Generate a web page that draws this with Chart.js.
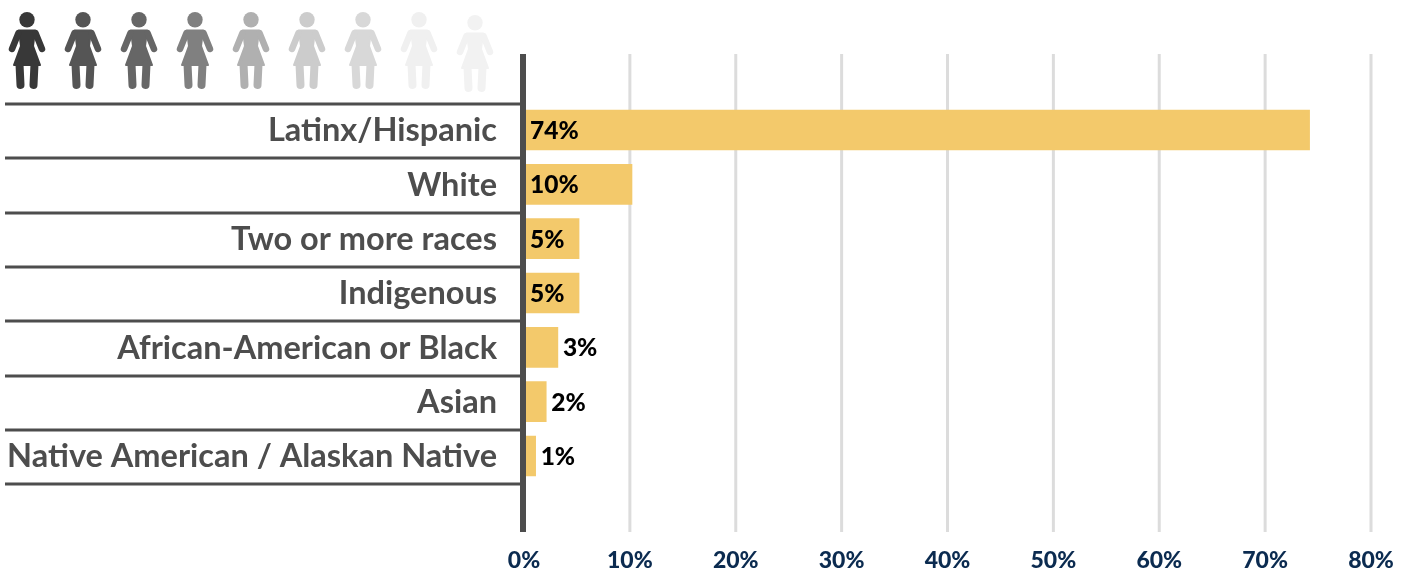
<!DOCTYPE html>
<html>
<head>
<meta charset="utf-8">
<script src="https://cdn.jsdelivr.net/npm/chart.js@4"></script>
<style>
html, body { margin: 0; padding: 0; background: #fff; }
canvas { display: block; }
</style>
</head>
<body>
<canvas id="myChart" width="1413" height="570"></canvas>
<script>
// blank first and last rows leave room for the figures and the axis tail
var categories = ['', 'Latinx/Hispanic', 'White', 'Two or more races', 'Indigenous', 'African-American or Black', 'Asian', 'Native American / Alaskan Native', ''];
var values = [null, 74.2, 10.2, 5.2, 5.2, 3.2, 2.1, 1.1, null];
var figureColors = ['#383838', '#555555', '#666666', '#808080', '#b0b0b0', '#cccccc', '#d8d8d8', '#f0f0f0', '#f2f2f2'];

var FONT = 'Lato, sans-serif';

function draw_figure(c, cx, top, color) {
    c.save();
    c.translate(cx, top);
    c.fillStyle = color;
    c.strokeStyle = color;
    c.lineCap = 'round';
    c.lineJoin = 'round';
    c.beginPath();
    c.arc(0, 7.7, 7.7, 0, Math.PI * 2);
    c.fill();
    // dress
    c.beginPath();
    c.moveTo(-8, 18.5);
    c.lineTo(8, 18.5);
    c.lineTo(6, 34);
    c.lineTo(13, 53);
    c.lineTo(-13, 53);
    c.lineTo(-6, 34);
    c.closePath();
    c.fill();
    c.lineWidth = 2;
    c.stroke();
    // arms
    c.lineWidth = 6.5;
    c.beginPath();
    c.moveTo(-8.5, 21);
    c.lineTo(-15, 37);
    c.moveTo(8.5, 21);
    c.lineTo(15, 37);
    c.stroke();
    // legs
    c.lineWidth = 8;
    c.beginPath();
    c.moveTo(-7.5, 52);
    c.lineTo(-6.5, 73);
    c.moveTo(7.5, 52);
    c.lineTo(6.5, 73);
    c.stroke();
    c.restore();
}

var decorations = {
    id: 'decorations',
    beforeDatasetsDraw: function (chart) {
        var c = chart.ctx, x = chart.scales.x;
        c.save();
        c.strokeStyle = '#dcdcdc';
        c.lineWidth = 3;
        x.ticks.forEach(function (t) {
            if (t.value === 0) return;
            var px = x.getPixelForValue(t.value);
            c.beginPath();
            c.moveTo(px, 54);
            c.lineTo(px, 532);
            c.stroke();
        });
        c.restore();
    },
    afterDatasetsDraw: function (chart) {
        var c = chart.ctx, x = chart.scales.x, y = chart.scales.y;
        c.save();
        // row separators
        c.strokeStyle = '#4d4d4d';
        c.lineWidth = 3;
        for (var i = 1; i < categories.length; i++) {
            var py = Math.round((y.getPixelForValue(i - 1) + y.getPixelForValue(i)) / 2) + 1;
            c.beginPath();
            c.moveTo(5, py);
            c.lineTo(520, py);
            c.stroke();
        }
        // vertical axis
        c.lineWidth = 6;
        c.beginPath();
        c.moveTo(x.getPixelForValue(0) - 1, 54);
        c.lineTo(x.getPixelForValue(0) - 1, 532);
        c.stroke();
        // value labels
        c.fillStyle = '#000';
        c.font = '900 24.5px ' + FONT;
        c.textAlign = 'left';
        c.textBaseline = 'middle';
        values.forEach(function (v, i) {
            if (v === null) return;
            var px = Math.round(v) >= 5 ? x.getPixelForValue(0) + 6 : x.getPixelForValue(v) + 5;
            c.fillText(Math.round(v) + '%', px, y.getPixelForValue(i) + 1);
        });
        // figures
        figureColors.forEach(function (col, i) {
            draw_figure(c, 27 + i * 56, i === 8 ? 15 : 12, col);
        });
        c.restore();
    }
};

var ctx = document.getElementById('myChart');
var chart = new Chart(ctx, {
    type: 'bar',
    data: {
        labels: categories,
        datasets: [{
            data: values,
            backgroundColor: '#f3c96b',
            barThickness: 40
        }]
    },
    options: {
        indexAxis: 'y',
        responsive: false,
        animation: false,
        layout: { padding: { top: 48.5, right: 42, left: 0, bottom: 0 } },
        plugins: { legend: { display: false }, tooltip: { enabled: false } },
        scales: {
            x: {
                min: 0,
                max: 80,
                afterFit: function (s) { s.height = 32.5; s.paddingLeft = 0; s.paddingRight = 0; },
                grid: { display: false },
                border: { display: false },
                ticks: {
                    stepSize: 10,
                    padding: 1,
                    maxRotation: 0,
                    color: '#0b2b50',
                    font: { family: FONT, size: 23, weight: '900' },
                    callback: function (v) { return v + '%'; }
                }
            },
            y: {
                afterFit: function (s) { s.width = 524; s.paddingTop = 0; s.paddingBottom = 0; },
                grid: { display: false },
                border: { display: false },
                ticks: {
                    autoSkip: false,
                    padding: 19,
                    labelOffset: 1,
                    color: '#4d4d4d',
                    font: { family: FONT, size: 32.5, weight: '700' }
                }
            }
        }
    },
    plugins: [decorations]
});
</script>
</body>
</html>
